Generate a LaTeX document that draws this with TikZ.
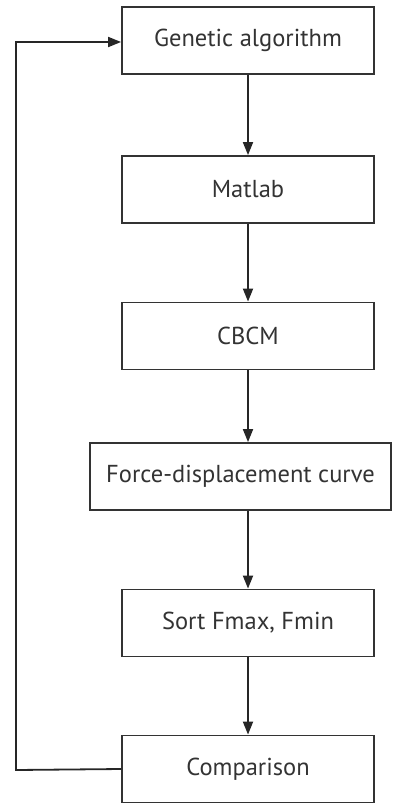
\documentclass[tikz,border=0pt]{standalone}
\usepackage{fontspec}
\setmainfont{PT Sans}
\usetikzlibrary{arrows.meta}
\tikzset{
  box/.style={draw=black!80, line width=1.8pt, minimum height=67pt, inner sep=0pt, font=\fontsize{24.5}{28}\selectfont, text=black!80},
  conn/.style={draw=black!85, line width=1.8pt, -{Triangle[length=13pt,width=10pt]}}
}
\begin{document}
\begin{tikzpicture}[x=1pt,y=-1pt]
\useasboundingbox (0,0) rectangle (393,805);
\node[box, minimum width=252pt] (b1) at (248,40.5) {Genetic algorithm};
\node[box, minimum width=252pt] (b2) at (248,189.5) {Matlab};
\node[box, minimum width=252pt] (b3) at (248,336) {CBCM};
\node[box, minimum width=301pt] (b4) at (240.5,476.5) {Force-displacement curve};
\node[box, minimum width=252pt] (b5) at (248,623) {Sort Fmax, Fmin};
\node[box, minimum width=252pt] (b6) at (248,769) {Comparison};
\coordinate (c1) at (16,770);
\coordinate (c2) at (16,42);
\draw[conn] (b1) -- (b2);
\draw[conn] (b2) -- (b3);
\draw[conn] (b3.south) -- (b3.south |- b4.north);
\draw[conn] (b4.south -| b5.north) -- (b5.north);
\draw[conn] (b5) -- (b6);
\draw[conn] (b6.west) -- (c1) -- (c2) -- (c2 -| b1.west);
\end{tikzpicture}
\end{document}
